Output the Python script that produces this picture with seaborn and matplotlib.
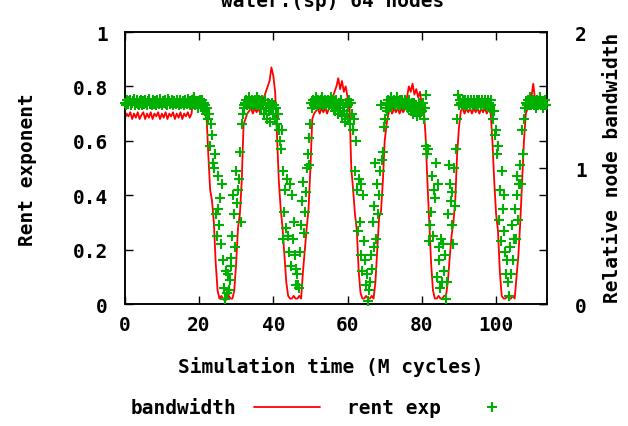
import numpy as np
import matplotlib
matplotlib.use("Agg")
import matplotlib.pyplot as plt
from matplotlib.lines import Line2D
import seaborn as sns

# Relative node bandwidth, one sample every 0.5 M cycles starting at t = 0
bandwidth = [
    1.36, 1.40, 1.38, 1.41, 1.36, 1.40, 1.37, 1.41, 1.36, 1.39,
    1.41, 1.36, 1.40, 1.37, 1.41, 1.36, 1.40, 1.38, 1.41, 1.36,
    1.40, 1.37, 1.41, 1.36, 1.40, 1.38, 1.41, 1.36, 1.40, 1.37,
    1.41, 1.36, 1.40, 1.38, 1.41, 1.37, 1.40, 1.54, 1.52, 1.46,
    1.48, 1.44, 1.46, 1.44, 1.40, 1.10, 0.84, 0.76, 0.60, 0.30,
    0.10, 0.04, 0.06, 0.04, 0.02, 0.04, 0.06, 0.04, 0.04, 0.10,
    0.30, 0.56, 0.66, 0.90, 1.32, 1.36, 1.40, 1.42, 1.44, 1.40,
    1.44, 1.41, 1.44, 1.40, 1.48, 1.52, 1.56, 1.60, 1.64, 1.74,
    1.68, 1.56, 1.24, 0.90, 0.70, 0.56, 0.36, 0.16, 0.06, 0.04,
    0.04, 0.06, 0.04, 0.04, 0.06, 0.04, 0.24, 0.40, 0.56, 0.70,
    1.00, 1.36, 1.40, 1.42, 1.44, 1.40, 1.44, 1.41, 1.44, 1.40,
    1.44, 1.48, 1.52, 1.56, 1.60, 1.66, 1.58, 1.64, 1.56, 1.60,
    1.52, 1.48, 1.00, 0.84, 0.66, 0.54, 0.24, 0.08, 0.04, 0.04,
    0.06, 0.04, 0.04, 0.06, 0.04, 0.16, 0.40, 0.64, 0.68, 0.90,
    1.20, 1.32, 1.40, 1.44, 1.40, 1.44, 1.41, 1.44, 1.40, 1.44,
    1.41, 1.44, 1.52, 1.60, 1.56, 1.62, 1.54, 1.58, 1.52, 1.56,
    1.46, 1.44, 1.24, 0.90, 0.60, 0.30, 0.10, 0.04, 0.04, 0.06,
    0.04, 0.04, 0.06, 0.06, 0.16, 0.34, 0.50, 0.60, 0.76, 1.10,
    1.30, 1.42, 1.44, 1.40, 1.44, 1.41, 1.44, 1.40, 1.44, 1.41,
    1.44, 1.40, 1.44, 1.41, 1.44, 1.40, 1.44, 1.42, 1.20, 0.90,
    0.66, 0.54, 0.24, 0.06, 0.04, 0.04, 0.06, 0.04, 0.04, 0.06,
    0.04, 0.20, 0.36, 0.60, 0.90, 1.20, 1.40, 1.44, 1.44, 1.52,
    1.62, 1.50, 1.46, 1.44, 1.46, 1.44, 1.46, 1.44,
]

# Rent exponent, one sample every 0.25 M cycles starting at t = 0
rent_exp = [
    .74, .73, .75, .74, .735, .745, .75, .73, .74, .745, .755, .73, .74, .75, .735, .73, .745, .75, .74, .73,
    .745, .735, .75, .74, .73, .745, .755, .735, .74, .73, .75, .74, .735, .745, .73, .75, .74, .735, .755, .74,
    .73, .745, .74, .75, .735, .74, .73, .755, .745, .735, .74, .75, .73, .745, .74, .735, .75, .74, .73, .745,
    .75, .735, .74, .745, .73, .75, .74, .735, .755, .74, .73, .745, .75, .735, .74, .76, .73, .745, .74, .72,
    .74, .75, .73, .75, .72, .74, .71, .73, .70, .72, .68, .70, .58, .66, .62, .52, .50, .55, .33, .25,
    .35, .47, .29, .39, .22, .44, .16, .06, .02, .12, .04, .11, .05, .09, .17, .14, .25, .40, .33, .21,
    .49, .37, .42, .46, .56, .30, .66, .70, .73, .72, .74, .75, .73, .74, .76, .73, .74, .75, .73, .74,
    .75, .73, .74, .76, .73, .75, .74, .72, .75, .73, .70, .75, .72, .68, .74, .71, .73, .67, .72, .74,
    .70, .73, .68, .72, .66, .70, .64, .60, .57, .64, .49, .24, .34, .42, .28, .46, .25, .19, .44, .14,
    .40, .24, .30, .18, .07, .13, .11, .07, .06, .19, .29, .38, .45, .26, .34, .41, .50, .55, .61, .51,
    .66, .74, .72, .75, .73, .74, .76, .73, .75, .74, .73, .75, .74, .76, .73, .74, .75, .73, .74, .75,
    .73, .74, .76, .73, .75, .72, .74, .71, .75, .73, .70, .74, .72, .75, .69, .73, .71, .67, .74, .70,
    .73, .68, .75, .66, .74, .70, .64, .68, .49, .60, .42, .27, .46, .30, .18, .44, .12, .40, .23, .16,
    .07, .11, .01, .05, .08, .18, .13, .30, .21, .36, .52, .24, .44, .33, .40, .49, .73, .53, .56, .65,
    .68, .72, .74, .71, .75, .73, .74, .76, .73, .74, .75, .73, .74, .76, .73, .74, .75, .73, .74, .75,
    .73, .74, .75, .73, .74, .72, .75, .73, .71, .74, .72, .70, .74, .71, .73, .69, .72, .74, .70, .73,
    .71, .74, .68, .72, .77, .58, .55, .57, .23, .29, .34, .47, .25, .42, .39, .52, .10, .44, .21, .16,
    .06, .24, .08, .22, .12, .18, .02, .08, .33, .51, .44, .38, .29, .41, .22, .50, .36, .57, .68, .77,
    .73, .75, .74, .73, .75, .74, .73, .75, .74, .73, .75, .74, .73, .75, .74, .73, .75, .74, .73, .75,
    .74, .73, .75, .74, .73, .75, .74, .73, .75, .74, .73, .75, .74, .72, .75, .73, .71, .68, .71, .62,
    .64, .55, .58, .31, .42, .23, .49, .35, .40, .27, .19, .11, .16, .08, .03, .21, .11, .29, .16, .24,
    .35, .24, .40, .47, .31, .44, .51, .44, .64, .55, .68, .72, .74, .73, .75, .73, .74, .76, .73, .74,
    .75, .73, .74, .72, .75, .73, .74, .76, .73, .74, .72, .74, .73, .75, .73,
]

bw_step = 0.5      # M cycles between bandwidth samples
rent_step = 0.25   # M cycles between Rent exponent samples

x_ticks = [0, 20, 40, 60, 80, 100]
rent_ticks = [0, 0.2, 0.4, 0.6, 0.8, 1]
rent_tick_labels = ["0", "0.2", "0.4", "0.6", "0.8", "1"]
bw_ticks = [0, 1, 2]
bw_tick_labels = ["0", "1", "2"]

t_bw = bw_step * np.arange(len(bandwidth))
t_rent = rent_step * np.arange(len(rent_exp))

RED = "#ff0000"
GREEN = "#00b000"
FONT = "DejaVu Sans Mono"
FS = 14

sns.set_style("white")
plt.rcParams["font.family"] = [FONT]
plt.rcParams["font.weight"] = "bold"
for key in ("text.color", "axes.labelcolor", "xtick.color", "ytick.color",
            "axes.edgecolor"):
    plt.rcParams[key] = "black"

fig = plt.figure(figsize=(6.28, 4.27), dpi=100)
ax = fig.add_axes([0.1986, 0.2857, 0.6724, 0.6370])
ax2 = ax.twinx()

# bandwidth on the right-hand scale
sns.lineplot(x=t_bw, y=bandwidth, ax=ax2, color=RED, linewidth=1.3,
             estimator=None, sort=False, legend=False)
# Rent exponent on the left-hand scale, drawn above the bandwidth trace
sns.scatterplot(x=t_rent, y=rent_exp, ax=ax, color=GREEN, marker="+",
                s=58, linewidth=1.5, legend=False, clip_on=False, zorder=3)
ax.set_zorder(ax2.get_zorder() + 1)
ax.patch.set_visible(False)

ax.set_xlim(0, 113.7)
ax.set_ylim(0, 1)
ax2.set_ylim(0, 2)

ax.set_xticks(x_ticks)
ax.set_xticklabels([str(v) for v in x_ticks])
ax.set_yticks(rent_ticks)
ax.set_yticklabels(rent_tick_labels)
ax2.set_yticks(bw_ticks)
ax2.set_yticklabels(bw_tick_labels)

ax.tick_params(axis="x", direction="in", length=5.8, width=1, top=True,
               bottom=True, labelsize=FS, pad=8, color="black")
ax.tick_params(axis="y", direction="in", length=5.8, width=1, left=True,
               right=True, labelright=False, labelsize=FS, pad=12, color="black")
ax2.tick_params(axis="y", direction="in", length=5.8, width=1, left=False,
                right=True, labelsize=FS, pad=20, color="black")
for a in (ax, ax2):
    for sp in a.spines.values():
        sp.set_color("black")
        sp.set_linewidth(1.1)
    for lab in a.get_xticklabels() + a.get_yticklabels():
        lab.set_fontweight("bold")

ax.set_xlabel("Simulation time (M cycles)", fontsize=FS, fontweight="bold")
ax.xaxis.set_label_coords(0.4885, -0.228)
ax.xaxis.label.set_va("center")

ax.set_ylabel("Rent exponent", fontsize=FS, fontweight="bold")
ax.yaxis.set_label_coords(-0.23, 0.496)
ax.yaxis.label.set_rotation_mode("default")
ax.yaxis.label.set_va("center")

ax2.set_ylabel("Relative node bandwidth", fontsize=FS, fontweight="bold")
ax2.yaxis.set_label_coords(1.155, 0.504)
ax2.yaxis.label.set_rotation(90)
ax2.yaxis.label.set_rotation_mode("default")
ax2.yaxis.label.set_va("center")

fig.text(0.53, 1 - 7 / 427, "water.(sp) 64 nodes", fontsize=FS,
         fontweight="bold", ha="center", va="baseline")

handles = [
    Line2D([], [], color=RED, linewidth=1.3),
    Line2D([], [], color=GREEN, marker="+", linestyle="none",
           markersize=7.6, markeredgewidth=1.5),
]
fig.legend(handles, ["bandwidth", "rent exp"], ncol=2, markerfirst=False,
           frameon=False, loc="center", bbox_to_anchor=(0.5215, 1 - 409 / 427),
           handlelength=3.4, handletextpad=0.9, columnspacing=1.4,
           prop={"family": FONT, "weight": "bold", "size": FS})

fig.savefig("out.png", dpi=100)
